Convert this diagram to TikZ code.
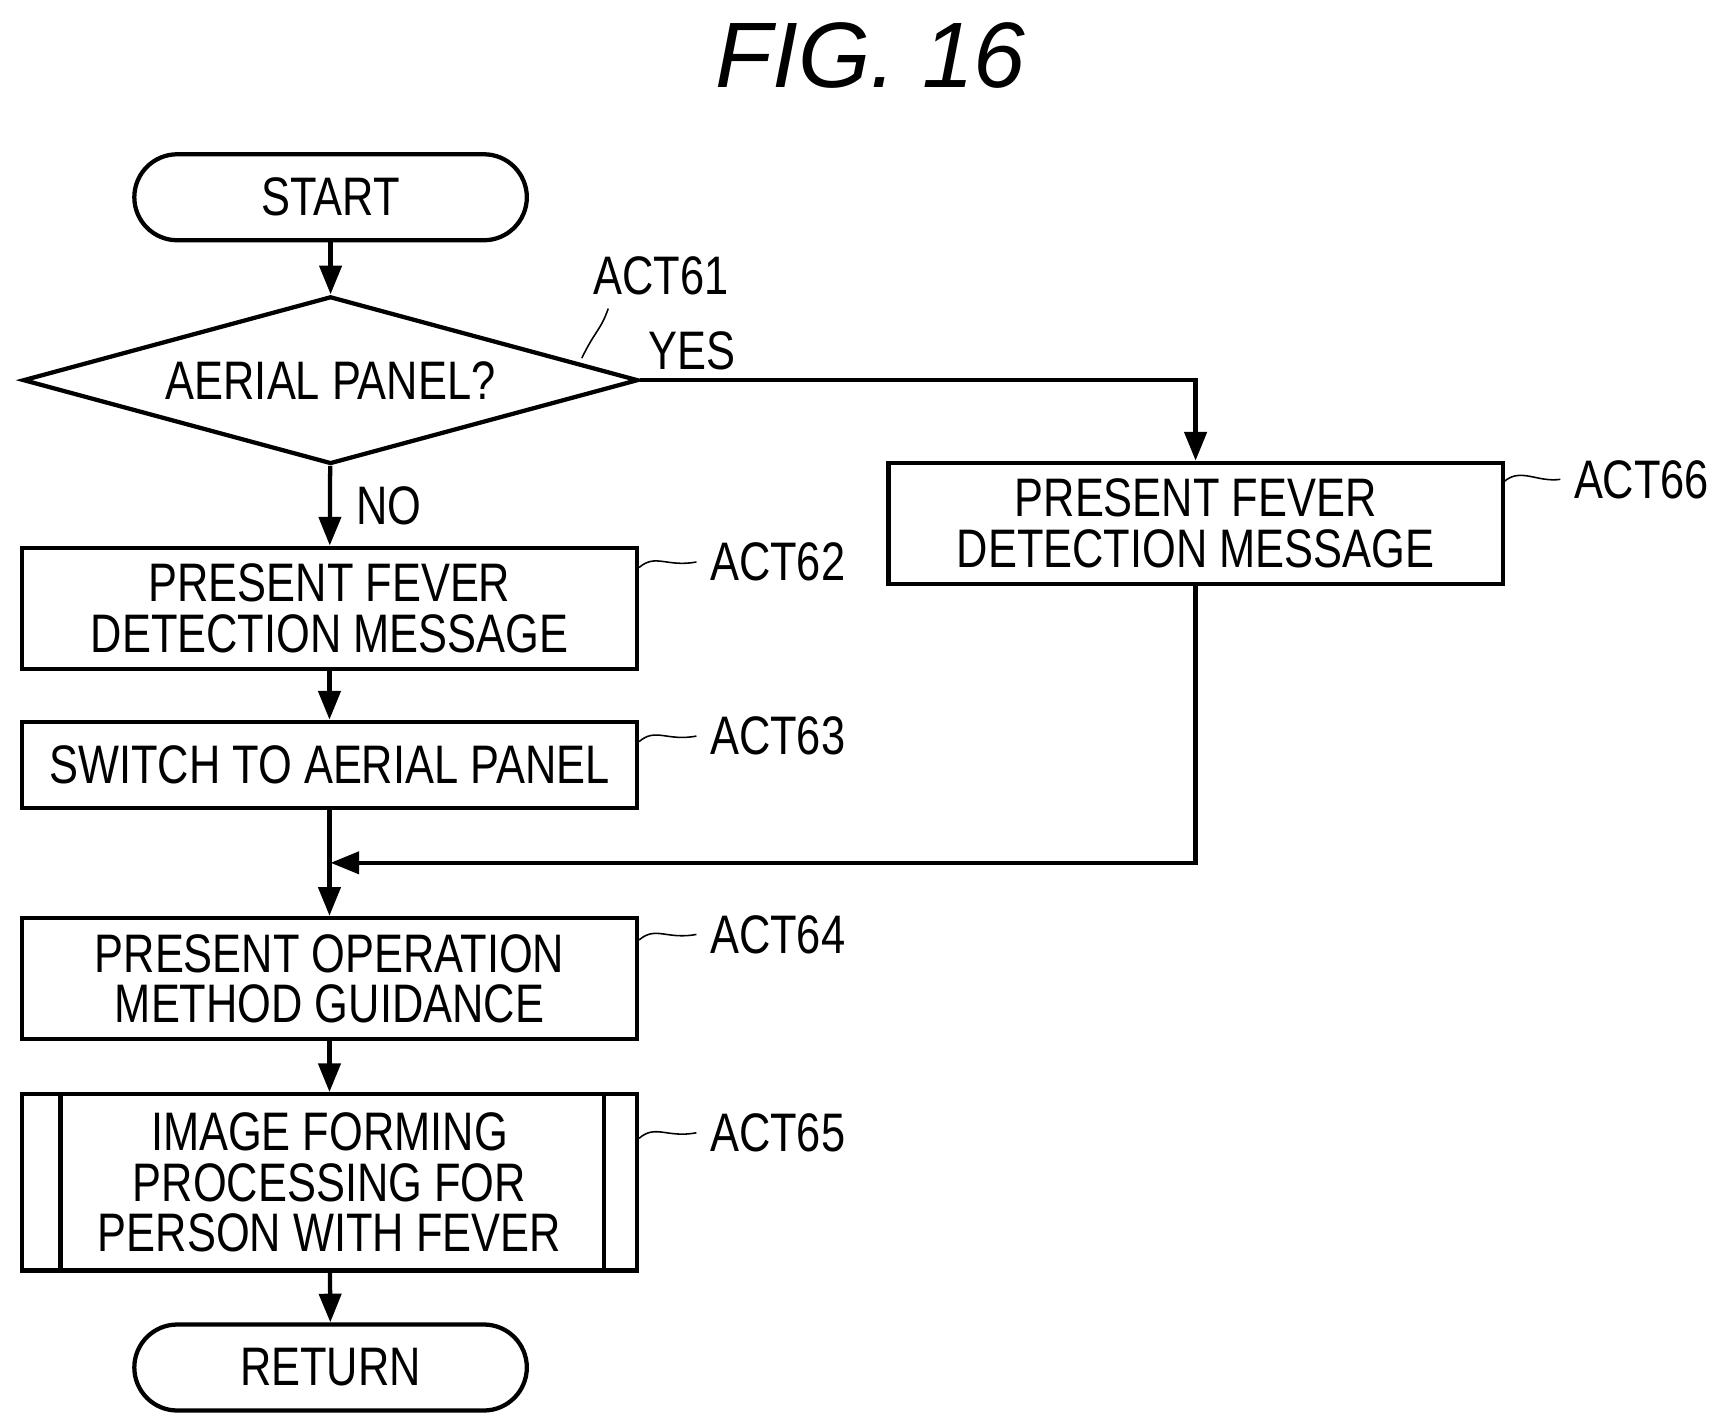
\documentclass[tikz,border=0pt]{standalone}
\usepackage{fontspec}
\setmainfont{Liberation Sans}[FakeStretch=0.8]
\newfontfamily\titlefont{Liberation Sans}
\usetikzlibrary{shapes.geometric,arrows.meta,positioning}
\tikzset{
  flow/.style={line width=1.1pt},
  arr/.style={flow,-{Triangle[length=0.26cm,width=0.2cm]}},
  term/.style={draw,flow,rounded corners=0.39cm,minimum width=3.56cm,minimum height=0.78cm,inner sep=0pt},
  proc/.style={draw,flow,minimum width=5.58cm,align=center,inner sep=0pt},
  dec/.style={draw,flow,diamond,aspect=3.67,minimum width=5.58cm,minimum height=1.52cm,inner sep=0pt},
  tag/.style={font=\fontsize{14}{16}\selectfont}
}
\begin{document}
\begin{tikzpicture}[x=0.01cm,y=-0.01cm,font=\fontsize{14}{13}\selectfont]
  \useasboundingbox (0,0) rectangle (1560,1293);
  % title
  \node (title) at (790,50) {\titlefont\fontsize{24}{26}\selectfont\itshape FIG. 16};
  % main column
  \node[term] (start) at (300,179) {START};
  \node[dec] (act61) at (300,345) {AERIAL PANEL?};
  \node[proc,minimum height=1.1cm] (act62) at (299,552) {PRESENT FEVER\\DETECTION MESSAGE};
  \node[proc,minimum height=0.78cm] (act63) at (299,694) {SWITCH TO AERIAL PANEL};
  \node[proc,minimum height=1.1cm] (act64) at (299,888) {PRESENT OPERATION\\METHOD GUIDANCE};
  \node[proc,minimum height=1.6cm] (act65) at (299,1073) {IMAGE FORMING\\PROCESSING FOR\\PERSON WITH FEVER};
  \draw[flow] (55,993) -- (55,1153) (548,993) -- (548,1153);
  \node[term] (ret) at (300,1241) {RETURN};
  % right branch
  \node[proc,minimum height=1.1cm,minimum width=5.57cm] (act66) at (1085,475) {PRESENT FEVER\\DETECTION MESSAGE};
  \coordinate (merge) at (300,783);
  % connectors
  \draw[arr] (start) -- (act61);
  \draw[arr] (act61) -- node[right,xshift=0.1cm] {NO} (act62);
  \draw[arr] (act62) -- (act63);
  \draw[arr] (act63) -- (act64);
  \draw[arr] (act64) -- (act65);
  \draw[arr] (act65) -- (ret);
  \draw[arr] (act61.east) -- (1085,345) -- (act66);
  \draw[arr] (act66) -- (1085,783) -- (merge);
  \node at (628,318) {YES};
  % step tags
  \node[tag] (t61) at (600,250) {ACT61};
  \draw (528,325) .. controls (540,300) and (545,300) .. (552,280);
  \foreach \n/\y in {62/510,63/668,64/848,65/1028}{
    \node[tag,anchor=west] (t\n) at (632,\y) {ACT\n};
    \draw (580,\y+5) .. controls (595,\y-8) and (605,\y+5) .. (t\n.west);
  }
  \node[tag,anchor=west] (t66) at (1416,435) {ACT66};
  \draw (1365,437) .. controls (1380,424) and (1395,438) .. (t66.west);
\end{tikzpicture}
\end{document}
